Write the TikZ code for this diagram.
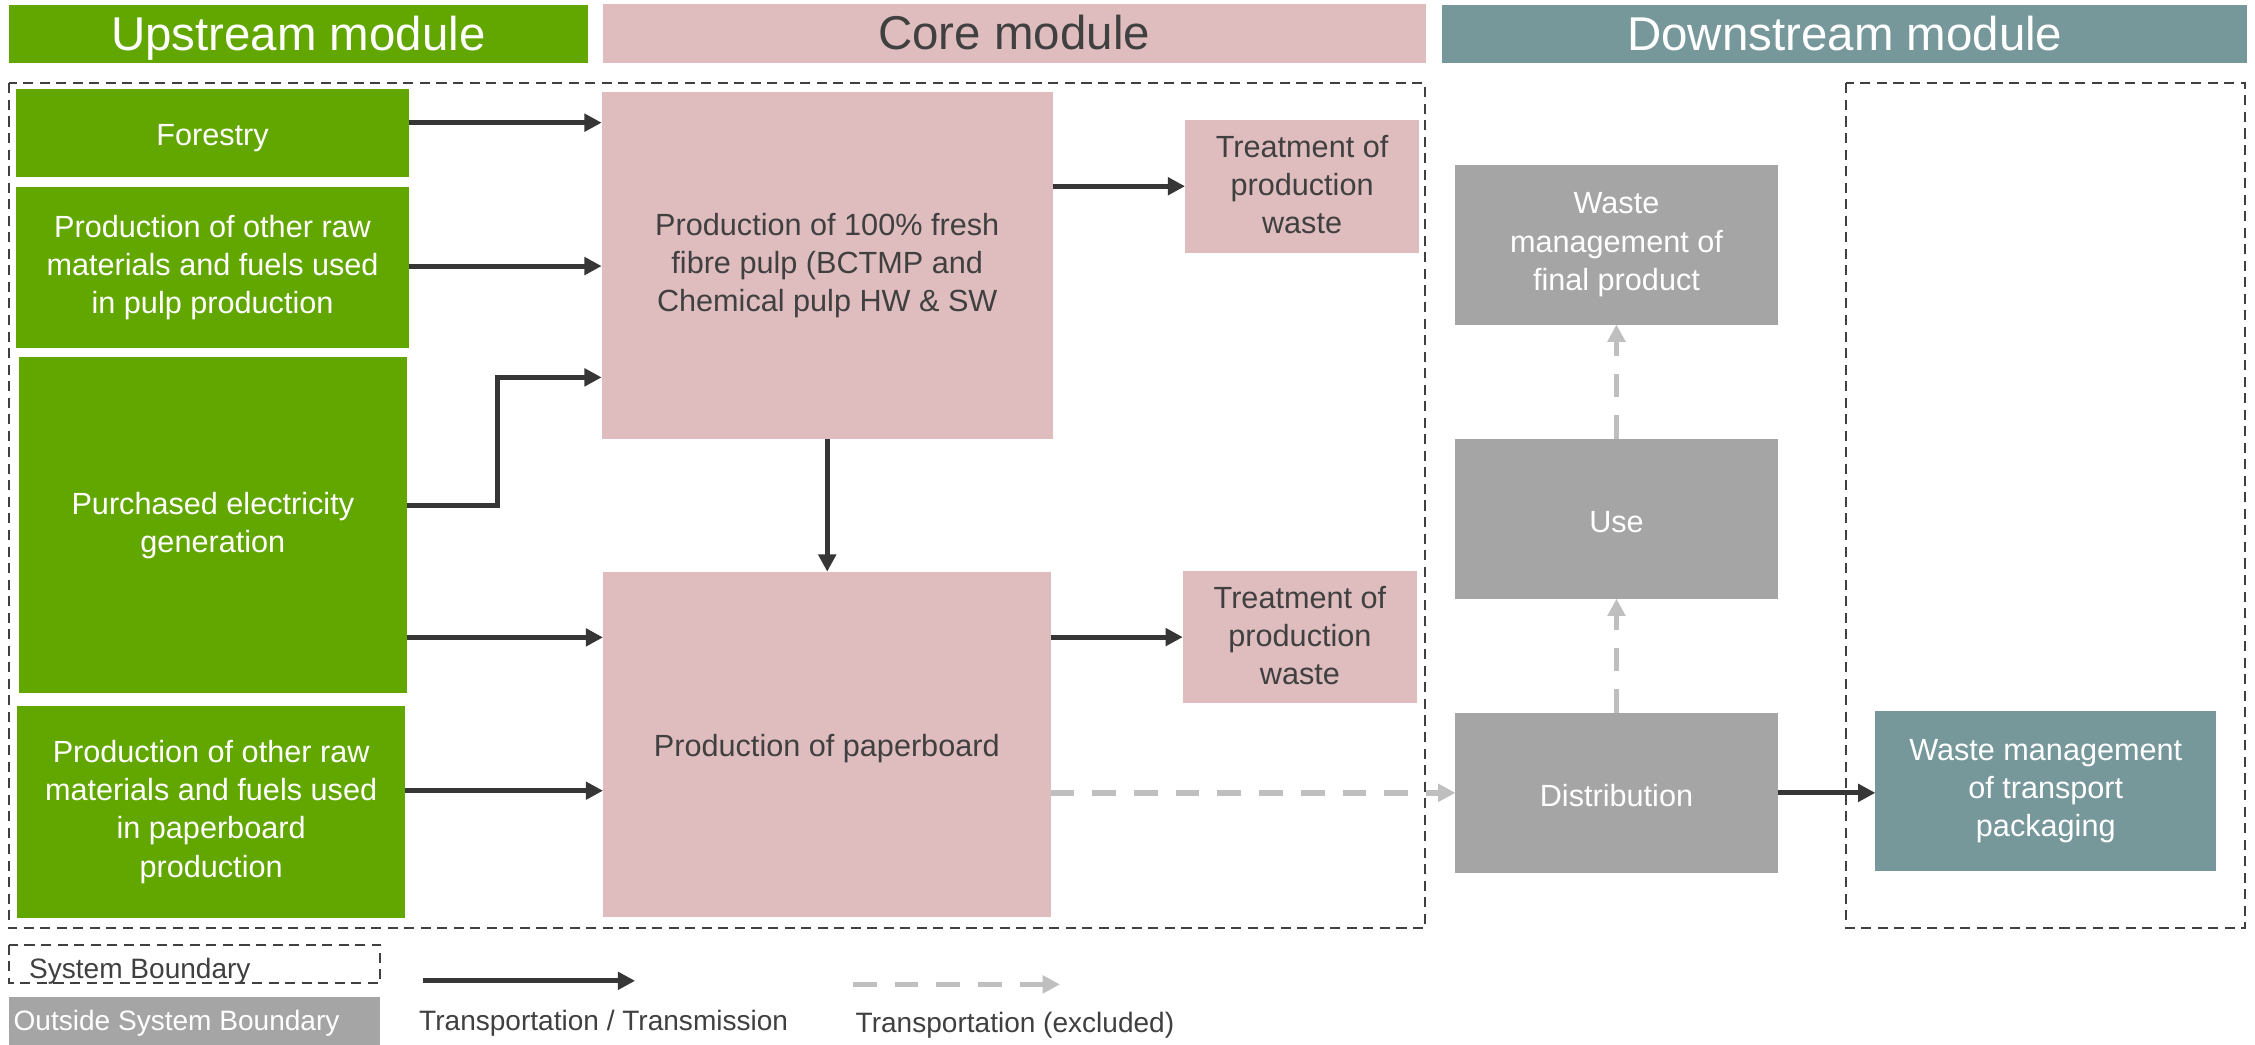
\documentclass[tikz,border=0pt]{standalone}
\usepackage{fontspec}
\setmainfont{Liberation Sans}
\usetikzlibrary{arrows.meta}
\definecolor{upgreen}{RGB}{98,166,0}
\definecolor{corepink}{RGB}{223,189,191}
\definecolor{downteal}{RGB}{119,152,155}
\definecolor{boxgray}{RGB}{165,165,165}
\definecolor{darktext}{RGB}{64,64,64}
\definecolor{arrowdark}{RGB}{54,54,54}
\definecolor{lightdash}{RGB}{191,191,191}
\newcommand\lnstrut{\vrule width 0pt height 0.905em depth 0.212em}
\newcommand\blkstrut{\vrule width 0pt height 1.0em depth 0.12em}
\begin{document}
\begin{tikzpicture}[x=1pt,y=-1pt,
  every node/.style={inner sep=0pt, outer sep=0pt},
  blk/.style={rectangle, align=center, font=\fontsize{21.3}{26.6}\selectfont,
    execute at begin node=\blkstrut, execute at end node=\blkstrut},
  upbox/.style={blk, fill=upgreen, text=white},
  corebox/.style={blk, fill=corepink, text=darktext},
  outbox/.style={blk, fill=boxgray, text=white},
  tealbox/.style={blk, fill=downteal, text=white},
  header/.style={rectangle, font=\fontsize{33}{40}\selectfont,
    execute at begin node=\lnstrut, execute at end node=\lnstrut},
  boundary/.style={draw=darktext, line width=1.4pt, dash pattern=on 7pt off 4.5pt},
  flow/.style={draw=arrowdark, line width=3.5pt, -{Triangle[length=12pt,width=12pt]}},
  excl/.style={draw=lightdash, line width=4pt, dash pattern=on 16.5pt off 12.5pt, -{Triangle[length=12pt,width=12pt]}},
  legtext/.style={font=\fontsize{19.5}{23}\selectfont, text=darktext, anchor=west,
    execute at begin node=\lnstrut, execute at end node=\lnstrut},
]
\path[use as bounding box, fill=white] (0,0) rectangle (1568,726.6);

% headers
\node[header, fill=upgreen, text=white, minimum width=403, minimum height=40.1] (hup) at (207.5,23.55) {Upstream module};
\node[header, fill=corepink, text=darktext, minimum width=572.5, minimum height=40.8] (hcore) at (705.2,23.2) {Core module};
\node[header, fill=downteal, text=white, minimum width=559.6, minimum height=40.1] (hdown) at (1282.8,23.55) {Downstream module};

% system boundaries
\draw[boundary] (6,58) rectangle (991,645.5);
\draw[boundary] (1283.5,58) rectangle (1561.3,645.5);

% upstream
\node[upbox, minimum width=273.6, minimum height=60.8] (forestry) at (147.8,92.5) {Forestry};
\node[upbox, minimum width=273.6, minimum height=111.5] (pulpraw) at (147.8,186) {Production of other raw\\materials and fuels used\\in pulp production};
\node[upbox, minimum width=270, minimum height=233.5] (elec) at (148,365.2) {Purchased electricity\\generation};
\node[upbox, minimum width=269.5, minimum height=147.7] (pbraw) at (146.8,564.5) {Production of other raw\\materials and fuels used\\in paperboard\\production};

% core
\node[corebox, minimum width=313.7, minimum height=240.8] (pulp) at (575.2,184.6) {Production of 100\% fresh\\fibre pulp (BCTMP and\\Chemical pulp HW \& SW};
\node[corebox, minimum width=311.2, minimum height=240.2] (pboard) at (574.9,517.6) {Production of paperboard};
\node[corebox, minimum width=162.8, minimum height=92.3] (treat1) at (905.4,129.5) {Treatment of\\production\\waste};
\node[corebox, minimum width=162.9, minimum height=92] (treat2) at (903.9,443) {Treatment of\\production\\waste};

% downstream
\node[outbox, minimum width=224, minimum height=110.9] (wfinal) at (1124,170.2) {Waste\\management of\\final product};
\node[outbox, minimum width=224, minimum height=111] (nuse) at (1124,360.8) {Use};
\node[outbox, minimum width=224, minimum height=111.1] (dist) at (1124,551.3) {Distribution};
\node[tealbox, minimum width=237, minimum height=111.1] (teal) at (1422.5,550) {Waste management\\of transport\\packaging};

% connectors
\draw[flow] (forestry.east |- 0,85.3) -- (pulp.west |- 0,85.3);
\draw[flow] (pulpraw.east |- 0,185) -- (pulp.west |- 0,185);
\draw[flow] (elec.east |- 0,351.2) -- (346,351.2) |- (pulp.west |- 0,262.4);
\draw[flow] (elec.east |- 0,443.2) -- (pboard.west |- 0,443.2);
\draw[flow] (pbraw.east |- 0,549.8) -- (pboard.west |- 0,549.8);
\draw[flow] (pulp.south) -- (pulp.south |- pboard.north);
\draw[flow] (pulp.east |- treat1.west) -- (treat1.west);
\draw[flow] (pboard.east |- treat2.west) -- (treat2.west);
\draw[excl] (pboard.east |- dist.west) -- (dist.west);
\draw[excl] (dist.north) -- (nuse.south);
\draw[excl] (nuse.north) -- (wfinal.south);
\draw[flow] (dist.east) -- (teal.west |- dist.east);

% legend
\draw[boundary] (6.4,657) rectangle (264.5,683.7);
\node[legtext] (lsb) at (20.3,673.5) {System Boundary};
\node[fill=boxgray, minimum width=258.1, minimum height=33.2] (losbbox) at (135.45,710) {};
\node[legtext, text=white] (losb) at (9.5,709.5) {Outside System Boundary};
\coordinate (la1) at (294,682);
\coordinate (la2) at (441.6,682);
\draw[flow] (la1) -- (la2);
\node[legtext] (lt1) at (291.5,710) {Transportation / Transmission};
\coordinate (lb1) at (593,684.5);
\coordinate (lb2) at (737,684.5);
\draw[excl] (lb1) -- (lb2);
\node[legtext] (lt2) at (595,711) {Transportation (excluded)};
\end{tikzpicture}
\end{document}
